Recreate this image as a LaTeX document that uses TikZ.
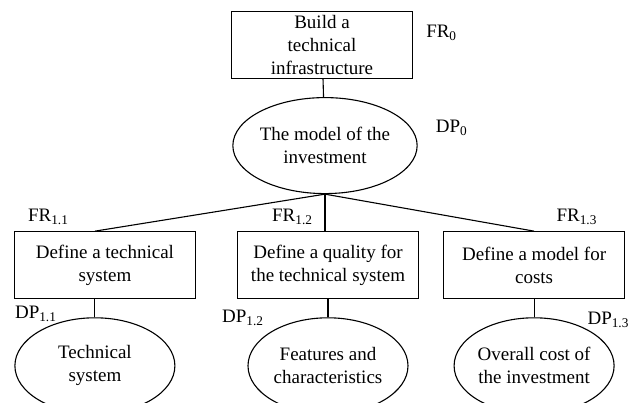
\documentclass[tikz,border=0pt]{standalone}
\usepackage{fontspec}
\setmainfont{Liberation Serif}
\usetikzlibrary{positioning, shapes.geometric}
\tikzset{
    frbox/.style={rectangle, draw, line width=1.1pt, minimum width=181pt, minimum height=67pt, align=center, inner sep=2pt},
    dpell/.style={ellipse, draw, line width=1.1pt, minimum width=160pt, minimum height=96pt, align=center, inner sep=0pt},
    tag/.style={inner sep=0pt, anchor=base west},
    link/.style={line width=1.1pt}
}

\begin{document}
\begin{tikzpicture}[x=1pt, y=-1pt, every node/.style={font=\fontsize{19}{23}\selectfont}]

% Page
\useasboundingbox (0,0) rectangle (635,403);
\clip (0,0) rectangle (635,403);

% Top level
\node (fr0box) [frbox] at (322,45) {Build a\\technical\\infrastructure};
\node (dp0ell) [dpell, minimum width=162pt, below=18pt of fr0box, xshift=3pt] {The model of the\\investment};

% Second level
\node (fr12box) [frbox, below=37pt of dp0ell, xshift=3pt] {Define a quality for\\the technical system};
\node (fr11box) [frbox, left=41pt of fr12box] {Define a technical\\system};
\node (fr13box) [frbox, right=24pt of fr12box] {Define a model for\\costs};

% Third level
\node (dp11ell) [dpell, below=18pt of fr11box, xshift=-10pt] {Technical\\system};
\node (dp12ell) [dpell, below=18pt of fr12box] {Features and\\characteristics};
\node (dp13ell) [dpell, below=18pt of fr13box] {Overall cost of\\the investment};

% Connectors
\draw[link] (fr0box) -- (dp0ell);
\draw[link] (dp0ell.south) -- (dp11ell.north |- fr11box.north);
\draw[link] (dp0ell.south) -- (dp0ell.south |- fr12box.north);
\draw[link] (dp0ell.south) -- (fr13box.north);
\draw[link] (dp11ell.north) -- (dp11ell.north |- fr11box.south);
\draw[link] (dp12ell.north) -- (fr12box.south);
\draw[link] (dp13ell.north) -- (fr13box.south);

% Labels
\node (fr0) [tag] at ([xshift=13pt, yshift=-26.5pt]fr0box.north east) {FR\textsubscript{0}};
\node (dp0) [tag] at ([xshift=18pt, yshift=13pt]dp0ell.east) {DP\textsubscript{0}};
\node (fr11) [tag] at ([xshift=14pt, yshift=9.5pt]fr11box.north west) {FR\textsubscript{1.1}};
\node (fr12) [tag] at ([xshift=35pt, yshift=9.5pt]fr12box.north west) {FR\textsubscript{1.2}};
\node (fr13) [tag, anchor=base east] at ([xshift=-28pt, yshift=10pt]fr13box.north east) {FR\textsubscript{1.3}};
\node (dp11) [tag] at ([xshift=1pt, yshift=-19.5pt]fr11box.south west) {DP\textsubscript{1.1}};
\node (dp12) [tag] at ([xshift=-15pt, yshift=-23.5pt]fr12box.south west) {DP\textsubscript{1.2}};
\node (dp13) [tag, anchor=base east] at ([xshift=4pt, yshift=-25.5pt]fr13box.south east) {DP\textsubscript{1.3}};

\end{tikzpicture}
\end{document}
